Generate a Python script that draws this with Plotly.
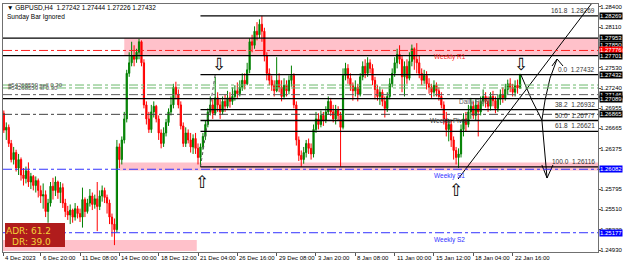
import plotly.graph_objects as go

# ---------------- DATA (H4 bars, bar 0 = 4 Dec 2023 00:00) ----------------
first_open = 1.2700
close = [1.2688,1.2664,1.2668,1.2645,1.2622,1.2632,1.2610,1.2622,1.2600,1.2595,
         1.2606,1.2590,1.2598,1.2585,1.2592,1.2578,1.2570,1.2572,1.2548,1.2560,
         1.2584,1.2578,1.2590,1.2575,1.2582,1.2560,1.2548,1.2543,1.2550,1.2540,
         1.2552,1.2545,1.2540,1.2565,1.2548,1.2560,1.2570,1.2558,1.2566,1.2555,
         1.2570,1.2578,1.2568,1.2560,1.2540,1.2530,1.2522,1.2640,1.2622,1.2650,
         1.2680,1.2745,1.2760,1.2770,1.2765,1.2775,1.2790,1.2760,1.2700,1.2680,
         1.2665,1.2690,1.2698,1.2680,1.2660,1.2645,1.2660,1.2675,1.2690,1.2700,
         1.2725,1.2715,1.2700,1.2670,1.2645,1.2660,1.2650,1.2640,1.2652,1.2638,
         1.2625,1.2640,1.2655,1.2672,1.2690,1.2700,1.2688,1.2710,1.2700,1.2690,
         1.2705,1.2698,1.2710,1.2705,1.2712,1.2720,1.2716,1.2725,1.2735,1.2730,
         1.2750,1.2790,1.2785,1.2805,1.2800,1.2815,1.2805,1.2770,1.2745,1.2735,
         1.2728,1.2720,1.2735,1.2725,1.2712,1.2728,1.2720,1.2735,1.2742,1.2700,
         1.2650,1.2628,1.2622,1.2632,1.2645,1.2638,1.2630,1.2665,1.2680,1.2672,
         1.2685,1.2678,1.2690,1.2705,1.2690,1.2680,1.2692,1.2685,1.2668,1.2742,
         1.2752,1.2738,1.2728,1.2720,1.2725,1.2715,1.2740,1.2755,1.2745,1.2760,
         1.2752,1.2735,1.2722,1.2712,1.2718,1.2705,1.2695,1.2712,1.2730,1.2745,
         1.2760,1.2772,1.2765,1.2740,1.2755,1.2738,1.2762,1.2780,1.2765,1.2760,
         1.2745,1.2735,1.2742,1.2730,1.2725,1.2718,1.2728,1.2720,1.2712,1.2700,
         1.2680,1.2665,1.2672,1.2650,1.2635,1.2625,1.2630,1.2665,1.2680,1.2672,
         1.2690,1.2698,1.2685,1.2700,1.2690,1.2705,1.2712,1.2705,1.2698,1.2712,
         1.2706,1.2695,1.2708,1.2715,1.2710,1.2722,1.2730,1.2725,1.2718,1.2728,
         1.27242,1.27432]
high = [1.2712,1.2692,1.2675,1.2672,1.2650,1.2640,1.2636,1.2630,1.2625,1.2610,
        1.2612,1.2618,1.2603,1.2600,1.2598,1.2595,1.2585,1.2588,1.2578,1.2566,
        1.2590,1.2596,1.2598,1.2592,1.2590,1.2588,1.2566,1.2556,1.2558,1.2552,
        1.2560,1.2556,1.2552,1.2582,1.2568,1.2566,1.2580,1.2575,1.2572,1.2590,
        1.2578,1.2585,1.2582,1.2572,1.2565,1.2545,1.2538,1.2650,1.2645,1.2655,
        1.2690,1.2750,1.2775,1.2790,1.2785,1.2780,1.2794,1.2792,1.2765,1.2705,
        1.2690,1.2700,1.2705,1.2700,1.2685,1.2665,1.2668,1.2680,1.2695,1.2712,
        1.2730,1.2733,1.2722,1.2705,1.2675,1.2668,1.2665,1.2660,1.2658,1.2660,
        1.2645,1.2645,1.2660,1.2678,1.2695,1.2712,1.2708,1.2740,1.2718,1.2708,
        1.2712,1.2715,1.2720,1.2718,1.2725,1.2728,1.2732,1.2735,1.2745,1.2745,
        1.2760,1.2795,1.2800,1.2812,1.2818,1.2822,1.2827,1.2810,1.2775,1.2752,
        1.2742,1.2735,1.2768,1.2745,1.2735,1.2738,1.2735,1.2742,1.2756,1.2745,
        1.2705,1.2655,1.2635,1.2640,1.2650,1.2652,1.2645,1.2672,1.2690,1.2688,
        1.2692,1.2690,1.2698,1.2712,1.2710,1.2700,1.2700,1.2698,1.2690,1.2752,
        1.2760,1.2758,1.2745,1.2732,1.2735,1.2730,1.2745,1.2762,1.2765,1.2768,
        1.2765,1.2758,1.2740,1.2728,1.2726,1.2722,1.2712,1.2718,1.2738,1.2752,
        1.2768,1.2780,1.2785,1.2770,1.2762,1.2765,1.2775,1.2786,1.2782,1.2788,
        1.2770,1.2752,1.2750,1.2748,1.2738,1.2730,1.2735,1.2732,1.2725,1.2718,
        1.2705,1.2690,1.2680,1.2678,1.2655,1.2640,1.2638,1.2672,1.2688,1.2690,
        1.2700,1.2710,1.2705,1.2708,1.2705,1.2712,1.2722,1.2718,1.2712,1.2718,
        1.2720,1.2712,1.2715,1.2722,1.2725,1.2730,1.2736,1.2738,1.2730,1.2735,
        1.2736,1.27444]
low = [1.2680,1.2660,1.2650,1.2640,1.2618,1.2615,1.2605,1.2600,1.2592,1.2585,
       1.2588,1.2583,1.2580,1.2578,1.2575,1.2568,1.2560,1.2552,1.2540,1.2532,
       1.2555,1.2565,1.2570,1.2566,1.2560,1.2553,1.2540,1.2536,1.2530,1.2532,
       1.2535,1.2538,1.2533,1.2525,1.2540,1.2545,1.2555,1.2550,1.2552,1.2520,
       1.2550,1.2562,1.2560,1.2545,1.2530,1.2512,1.2500,1.2518,1.2610,1.2615,
       1.2645,1.2675,1.2740,1.2755,1.2755,1.2760,1.2765,1.2755,1.2695,1.2672,
       1.2660,1.2660,1.2682,1.2675,1.2650,1.2638,1.2640,1.2655,1.2670,1.2685,
       1.2695,1.2708,1.2695,1.2665,1.2640,1.2640,1.2645,1.2632,1.2630,1.2630,
       1.2615,1.2612,1.2636,1.2650,1.2668,1.2685,1.2680,1.2685,1.2690,1.2680,
       1.2686,1.2690,1.2695,1.2696,1.2700,1.2706,1.2710,1.2712,1.2720,1.2722,
       1.2728,1.2745,1.2775,1.2780,1.2792,1.2795,1.2790,1.2762,1.2735,1.2728,
       1.2720,1.2712,1.2718,1.2718,1.2705,1.2708,1.2712,1.2715,1.2726,1.2695,
       1.2642,1.2620,1.2612,1.2616,1.2625,1.2630,1.2622,1.2625,1.2660,1.2665,
       1.2668,1.2670,1.2674,1.2686,1.2684,1.2675,1.2672,1.2678,1.2612,1.2665,
       1.2735,1.2730,1.2720,1.2706,1.2712,1.2705,1.2712,1.2735,1.2738,1.2740,
       1.2745,1.2728,1.2708,1.2706,1.2700,1.2698,1.2682,1.2690,1.2708,1.2725,
       1.2740,1.2752,1.2758,1.2718,1.2712,1.2730,1.2735,1.2755,1.2750,1.2745,
       1.2738,1.2728,1.2730,1.2722,1.2716,1.2710,1.2712,1.2712,1.2706,1.2695,
       1.2672,1.2655,1.2648,1.2640,1.2622,1.2615,1.2610,1.2625,1.2655,1.2662,
       1.2668,1.2680,1.2680,1.2678,1.2655,1.2685,1.2698,1.2696,1.2690,1.2692,
       1.2698,1.2688,1.2690,1.2700,1.2703,1.2706,1.2715,1.2718,1.2712,1.2712,
       1.2716,1.27226]
open_ = [first_open] + close[:-1]
bars = list(range(len(close)))

title_text = "\u25bc GBPUSD,H4  1.27242 1.27444 1.27226 1.27432"
subtitle_text = "Sunday Bar Ignored"

time_tick_bars = [0.75, 16, 32, 48, 64, 80, 96, 112, 128, 144, 160, 176, 192, 208]
time_tick_text = ["4 Dec 2023", "6 Dec 20:00", "11 Dec 08:00", "14 Dec 00:00", "18 Dec 12:00",
                  "21 Dec 04:00", "26 Dec 16:00", "29 Dec 08:00", "3 Jan 20:00", "8 Jan 08:00",
                  "11 Jan 00:00", "15 Jan 12:00", "18 Jan 04:00", "22 Jan 16:00"]
price_ticks = [1.28400, 1.28110, 1.27820, 1.27530, 1.27240, 1.26955, 1.26665,
               1.26375, 1.26085, 1.25795, 1.25510, 1.25220, 1.24930]

# Fibonacci retracement (anchored at 21 Dec low)
fib_names = ["161.8", "0.0", "38.2", "50.0", "61.8", "100.0"]
fib_prices = [1.28269, 1.27432, 1.26932, 1.26777, 1.26621, 1.26116]
fib_start_bar = 81
fib_anchor_bars = [81, 87]
fib_anchor_prices = [1.26116, 1.27432]

# full-width horizontal lines
solid_levels = [1.27953, 1.27701, 1.27089]
pivot_names = ["Weekly R1", "Daily Pivot", "Weekly Pivot", "Weekly S1", "Weekly S2"]
pivot_prices = [1.27776, 1.27146, 1.26865, 1.26082, 1.25177]
order_prices = [1.27283, 1.27241]
order_text = ["#54268559 sell 0.30", "#54268559 sl 0.30"]

# zones: (start bar, end bar or None=right edge, low, high)
zone_top = (50, None, 1.27701, 1.27953)
zone_mid = (48, None, 1.26064, 1.26178)
zone_low = (0, 79.5, 1.24916, 1.25073)

# price label boxes on the right axis
label_prices = [1.28269, 1.27953, 1.27850, 1.27776, 1.27701, 1.27432, 1.27146, 1.27089,
                1.26865, 1.26082, 1.25177]
label_colors = ["black", "black", "black", "#ff0000", "black", "black", "black", "black",
                "black", "#0000ff", "#0000ff"]

# hollow arrows (bar, price, direction)
arrow_bars = [88.5, 211.4, 81.6, 185.0]
arrow_prices = [1.27576, 1.27590, 1.25900, 1.25793]
arrow_dirs = ["down", "down", "up", "up"]

# trend line and forecast paths (bar, price anchors)
trend_bars = [185.8, 240.3]
trend_prices = [1.25943, 1.28453]
path_down_bars = [211.4, 215.8, 219.9, 221.3, 222.0]
path_down_prices = [1.27426, 1.27070, 1.26784, 1.26300, 1.25957]
path_up_bars = [219.9, 221.2, 223.2, 226.1]
path_up_prices = [1.26784, 1.27070, 1.27380, 1.27654]
head_bars = [219.9, 222.0, 224.4, None, 224.0, 226.1, 228.5]
head_prices = [1.26143, 1.25957, 1.26143, None, 1.27554, 1.27654, 1.27554]

adr_text = "ADR: 61.2"
dr_text = "DR: 39.0"

# ---------------- LAYOUT CONSTANTS ----------------
W, H = 625, 264
ML, MR, MT, MB = 3, 27, 4, 12
PW, PH = W - ML - MR, H - MT - MB
x_range = [0.663, 242.73]
y_range = [1.24902, 1.284385]
FONT = "Liberation Sans"


def xp(px):
    return (px - ML) / PW


def yp(py):
    return (MT + PH - py) / PH


fig = go.Figure()

fig.add_trace(go.Candlestick(
    x=bars, open=open_, high=high, low=low, close=close,
    increasing=dict(line=dict(color="#008000", width=1), fillcolor="#008000"),
    decreasing=dict(line=dict(color="#ff0000", width=1), fillcolor="#ff0000"),
    whiskerwidth=0, showlegend=False, hoverinfo="skip"))

shapes = []
for (b0, b1, lo, hi) in [zone_top, zone_mid, zone_low]:
    shapes.append(dict(type="rect", xref="x", yref="y", x0=b0,
                       x1=(x_range[1] if b1 is None else b1), y0=lo, y1=hi,
                       fillcolor="rgba(255,182,193,0.85)", line=dict(width=0), layer="below"))
for p in solid_levels:
    shapes.append(dict(type="line", xref="x", yref="y", x0=x_range[0], x1=x_range[1],
                       y0=p, y1=p, line=dict(color="black", width=1.2)))
for p in fib_prices:
    shapes.append(dict(type="line", xref="x", yref="y", x0=fib_start_bar, x1=x_range[1],
                       y0=p, y1=p, line=dict(color="black", width=1.3)))
pivot_colors = ["#ff2020", "#606060", "#404040", "#3333ff", "#3333ff"]
for p, c in zip(pivot_prices, pivot_colors):
    shapes.append(dict(type="line", xref="x", yref="y", x0=x_range[0], x1=x_range[1],
                       y0=p, y1=p, line=dict(color=c, width=1, dash="dashdot")))
for p in order_prices:
    shapes.append(dict(type="line", xref="x", yref="y", x0=x_range[0], x1=x_range[1],
                       y0=p, y1=p, line=dict(color="#6ab86a", width=1, dash="dashdot")))

fig.add_trace(go.Scatter(x=fib_anchor_bars, y=fib_anchor_prices, mode="lines",
                         line=dict(color="#555555", width=1, dash="dot"),
                         showlegend=False, hoverinfo="skip"))
fig.add_trace(go.Scatter(x=trend_bars, y=trend_prices, mode="lines",
                         line=dict(color="black", width=1), showlegend=False, hoverinfo="skip"))
for bx, py in [(path_down_bars, path_down_prices), (path_up_bars, path_up_prices),
               (head_bars, head_prices)]:
    fig.add_trace(go.Scatter(x=bx, y=py, mode="lines", line=dict(color="black", width=1),
                             connectgaps=False, showlegend=False, hoverinfo="skip"))

annotations = []
for b, p, d in zip(arrow_bars, arrow_prices, arrow_dirs):
    annotations.append(dict(x=b, y=p, xref="x", yref="y", showarrow=False,
                            text=("\u21e9" if d == "down" else "\u21e7"),
                            font=dict(family="DejaVu Sans", size=17, color="black")))
for p, c in zip(label_prices, label_colors):
    annotations.append(dict(x=1, y=p, xref="paper", yref="y", xanchor="left", yanchor="middle",
                            xshift=1, text=f"{p:.5f}", showarrow=False, bgcolor=c, borderpad=0,
                            font=dict(family=FONT, size=6, color="white")))
for n, p in zip(fib_names, fib_prices):
    annotations.append(dict(x=1, y=p, xref="paper", yref="y", xanchor="right", yanchor="bottom",
                            xshift=-1, text=f"{n}  {p:.5f}", showarrow=False,
                            font=dict(family=FONT, size=6.5, color="#333333")))
pivot_label_x = [432, 457, 428, 432, 432]
for n, p, c, px in zip(pivot_names, pivot_prices, pivot_colors, pivot_label_x):
    annotations.append(dict(x=xp(px), y=p, xref="paper", yref="y", xanchor="left", yanchor="top",
                            yshift=-1, text=n, showarrow=False,
                            font=dict(family=FONT, size=6.5, color=c)))
for t, p in zip(order_text, order_prices):
    annotations.append(dict(x=xp(6), y=p, xref="paper", yref="y", xanchor="left", yanchor="middle",
                            text=t, showarrow=False, font=dict(family=FONT, size=6, color="#555555")))
for b, t in zip(time_tick_bars, time_tick_text):
    annotations.append(dict(x=b, y=0, xref="x", yref="paper", xanchor="left", yanchor="top",
                            xshift=0, yshift=-1, text=t, showarrow=False,
                            font=dict(family=FONT, size=6, color="black")))
annotations.append(dict(x=xp(5), y=yp(8), xref="paper", yref="paper", xanchor="left",
                        yanchor="middle", text=title_text, showarrow=False,
                        font=dict(family=FONT, size=6.5, color="black")))
annotations.append(dict(x=xp(5), y=yp(17), xref="paper", yref="paper", xanchor="left",
                        yanchor="middle", text=subtitle_text, showarrow=False,
                        font=dict(family=FONT, size=6.5, color="black")))
shapes.append(dict(type="rect", xref="paper", yref="paper", x0=xp(5), x1=xp(65),
                   y0=yp(247), y1=yp(223), fillcolor="#b01c1c", line=dict(width=0)))
annotations.append(dict(x=xp(53), y=yp(230.5), xref="paper", yref="paper", xanchor="right",
                        yanchor="middle", text=adr_text, showarrow=False,
                        font=dict(family="DejaVu Sans", size=9, color="#f2d43a")))
annotations.append(dict(x=xp(53), y=yp(241.5), xref="paper", yref="paper", xanchor="right",
                        yanchor="middle", text=dr_text, showarrow=False,
                        font=dict(family="DejaVu Sans", size=9, color="#f2d43a")))

for a in annotations:
    fig.add_annotation(**a)

fig.update_layout(
    width=W, height=H, margin=dict(l=ML, r=MR, t=MT, b=MB, autoexpand=False),
    paper_bgcolor="white", plot_bgcolor="white", showlegend=False,
    shapes=shapes,
    xaxis=dict(range=x_range, rangeslider=dict(visible=False), showgrid=False, zeroline=False,
               tickvals=time_tick_bars, ticktext=["" for _ in time_tick_bars],
               ticks="outside", ticklen=3, tickcolor="#555555", automargin=False,
               showline=True, mirror=True, linecolor="#707070", linewidth=1),
    yaxis=dict(range=y_range, side="right", showgrid=False, zeroline=False,
               tickvals=price_ticks, ticktext=[f"{p:.5f}" for p in price_ticks],
               ticks="outside", ticklen=2, tickcolor="#555555", automargin=False,
               ticklabelstandoff=-2,
               tickfont=dict(family=FONT, size=6, color="black"),
               showline=True, mirror=True, linecolor="#707070", linewidth=1),
)

fig.write_html("out.html")
